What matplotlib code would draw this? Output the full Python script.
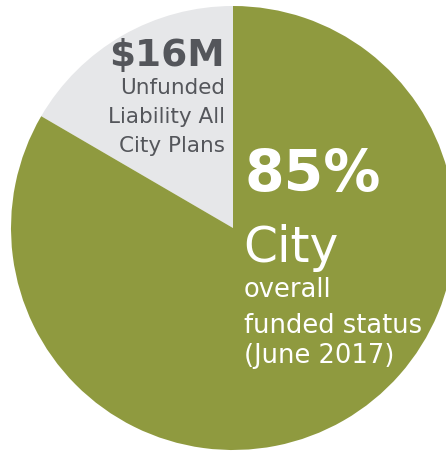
import matplotlib
matplotlib.use("Agg")
import matplotlib.pyplot as plt

labels = ["Unfunded", "Funded"]
shares = [16.6, 83.4]
colors = ["#e6e7e9", "#8f9a3f"]

W, H = 446, 451
fig = plt.figure(figsize=(W / 100, H / 100), dpi=100)
ax = fig.add_axes([0, 0, 1, 1])

ax.pie(shares, colors=colors, startangle=90, counterclock=True,
       center=(233, H - 228), radius=222, frame=True,
       wedgeprops=dict(linewidth=0))
ax.set_xlim(0, W)
ax.set_ylim(0, H)
ax.set_aspect("equal")
ax.axis("off")

font = "DejaVu Sans"
grey = "#54565b"
ax.text(225, H - 66, "$16M", color=grey, fontsize=27, fontweight="bold",
        ha="right", va="baseline", family=font)
for txt, yb in [("Unfunded", 94), ("Liability All", 123), ("City Plans", 152)]:
    ax.text(225, H - yb, txt, color=grey, fontsize=15.5, ha="right",
            va="baseline", family=font)

ax.text(244, H - 191, "85%", color="white", fontsize=41, fontweight="bold",
        ha="left", va="baseline", family=font)
ax.text(243, H - 262, "City", color="white", fontsize=35,
        ha="left", va="baseline", family=font)
for txt, yb in [("overall", 297), ("funded status", 333), ("(June 2017)", 363)]:
    ax.text(244, H - yb, txt, color="white", fontsize=18.5, ha="left",
            va="baseline", family=font)

fig.savefig("out.png", dpi=100, facecolor="white")
